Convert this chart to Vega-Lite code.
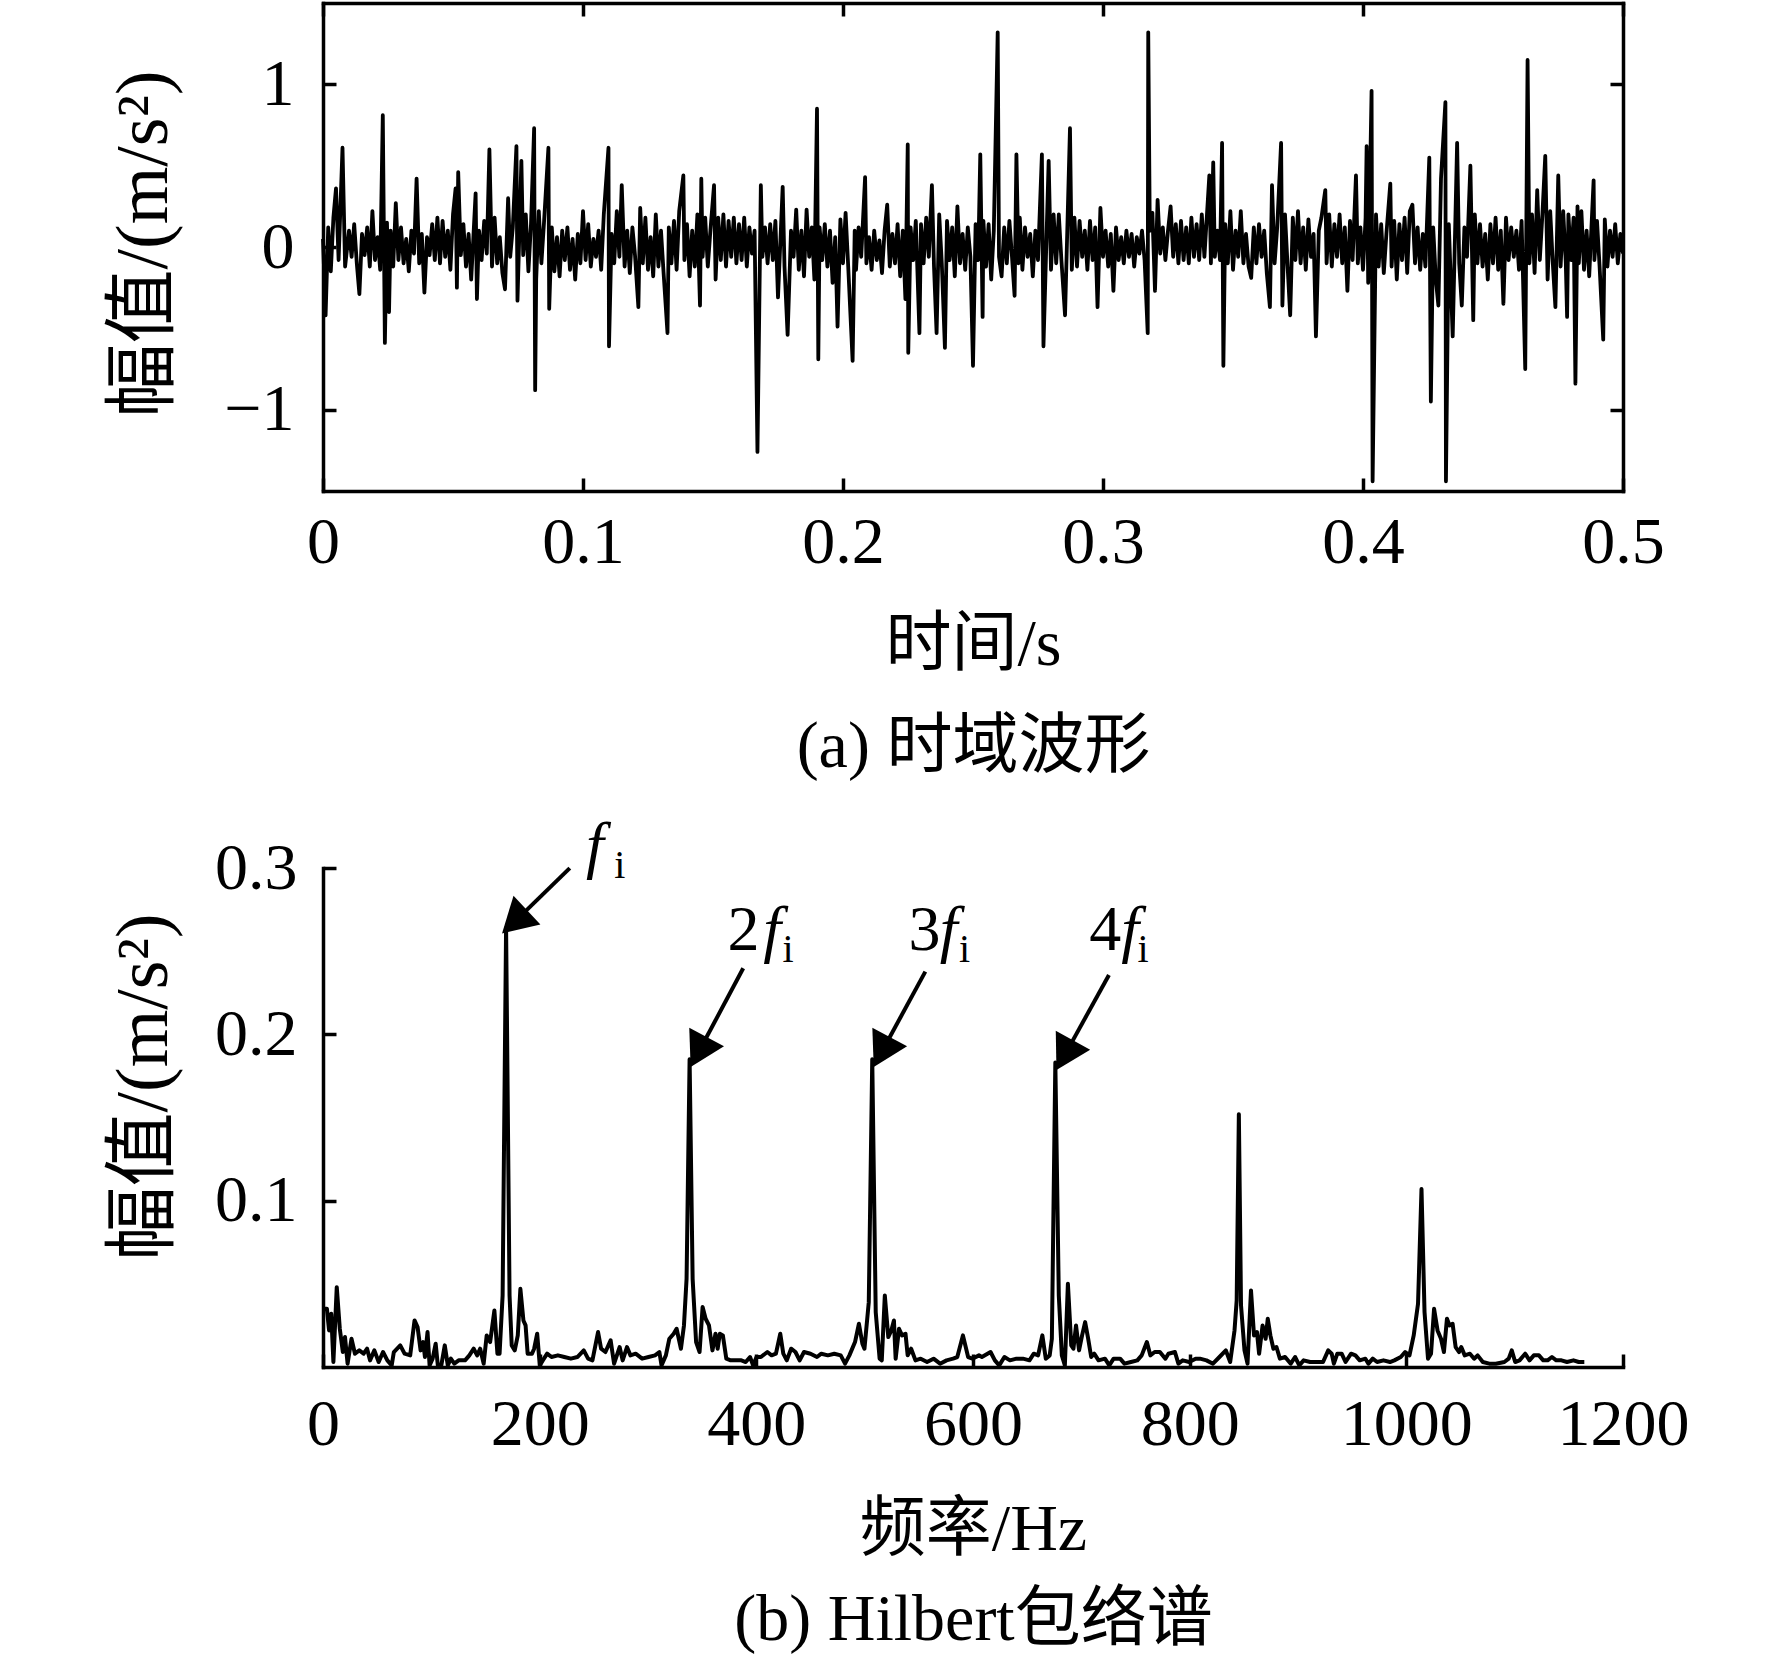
{
  "$schema": "https://vega.github.io/schema/vega-lite/v6.json",
  "background": "white",
  "padding": {"left": 106, "top": 0, "right": 10, "bottom": 10},
  "config": {
    "view": {"stroke": null},
    "font": "Liberation Serif",
    "axis": {
      "grid": false,
      "domainColor": "black",
      "domainWidth": 3.5,
      "domainCap": "square",
      "tickColor": "black",
      "tickWidth": 3.5,
      "tickSize": -13,
      "labelFont": "Liberation Serif",
      "labelFontSize": 66,
      "labelColor": "black",
      "labelFlush": false,
      "labelOverlap": false,
      "titleFont": "Liberation Serif, Noto Sans CJK SC",
      "titleFontSize": 66,
      "titleFontWeight": "normal",
      "titleColor": "black"
    }
  },
  "bounds": "flush",
  "spacing": 377,
  "vconcat": [
    {
      "width": 1300,
      "height": 488,
      "layer": [
        {
          "data": {"values": [
            {"t":0.000,"v":0.05},{"t":0.001,"v":-0.42},{"t":0.002,"v":0.12},{"t":0.003,"v":-0.15},{"t":0.004,"v":0.18},{"t":0.005,"v":0.36},{"t":0.006,"v":-0.08},{"t":0.0075,"v":0.61},{"t":0.0085,"v":-0.12},{"t":0.010,"v":0.10},
            {"t":0.011,"v":-0.06},{"t":0.012,"v":0.14},{"t":0.013,"v":-0.10},{"t":0.014,"v":-0.29},{"t":0.015,"v":0.08},{"t":0.016,"v":-0.05},{"t":0.017,"v":0.12},{"t":0.018,"v":-0.12},{"t":0.019,"v":0.22},{"t":0.020,"v":-0.08},
            {"t":0.021,"v":0.06},{"t":0.022,"v":-0.14},{"t":0.023,"v":0.81},{"t":0.0238,"v":-0.59},{"t":0.0246,"v":0.15},{"t":0.0254,"v":-0.40},{"t":0.026,"v":0.10},{"t":0.027,"v":-0.12},{"t":0.028,"v":0.27},{"t":0.029,"v":-0.08},
            {"t":0.030,"v":0.12},{"t":0.031,"v":-0.10},{"t":0.032,"v":0.05},{"t":0.033,"v":-0.15},{"t":0.034,"v":0.10},{"t":0.035,"v":-0.04},{"t":0.036,"v":0.42},{"t":0.037,"v":-0.10},{"t":0.038,"v":0.08},{"t":0.039,"v":-0.28},
            {"t":0.040,"v":0.06},{"t":0.041,"v":-0.05},{"t":0.042,"v":0.14},{"t":0.043,"v":-0.08},{"t":0.044,"v":0.18},{"t":0.045,"v":-0.10},{"t":0.046,"v":0.16},{"t":0.047,"v":-0.06},{"t":0.048,"v":0.10},{"t":0.049,"v":-0.14},
            {"t":0.050,"v":0.20},{"t":0.051,"v":0.36},{"t":0.0515,"v":-0.25},{"t":0.052,"v":0.46},{"t":0.053,"v":-0.05},{"t":0.054,"v":0.14},{"t":0.055,"v":-0.12},{"t":0.056,"v":0.08},{"t":0.057,"v":-0.20},{"t":0.0587,"v":0.33},
            {"t":0.0592,"v":-0.32},{"t":0.060,"v":0.10},{"t":0.061,"v":-0.08},{"t":0.062,"v":0.16},{"t":0.063,"v":-0.04},{"t":0.064,"v":0.60},{"t":0.065,"v":-0.12},{"t":0.066,"v":0.18},{"t":0.067,"v":-0.10},{"t":0.068,"v":0.06},
            {"t":0.069,"v":-0.16},{"t":0.070,"v":-0.26},{"t":0.0712,"v":0.30},{"t":0.072,"v":-0.06},{"t":0.073,"v":0.12},{"t":0.0744,"v":0.62},{"t":0.0748,"v":-0.33},{"t":0.0763,"v":0.53},{"t":0.077,"v":-0.05},{"t":0.078,"v":0.20},
            {"t":0.079,"v":-0.15},{"t":0.080,"v":0.14},{"t":0.0812,"v":0.73},{"t":0.0816,"v":-0.88},{"t":0.082,"v":-0.20},{"t":0.083,"v":0.22},{"t":0.084,"v":-0.10},{"t":0.085,"v":0.15},{"t":0.0867,"v":0.61},{"t":0.0870,"v":-0.38},
            {"t":0.088,"v":0.12},{"t":0.089,"v":-0.15},{"t":0.090,"v":0.06},{"t":0.091,"v":-0.18},{"t":0.092,"v":0.10},{"t":0.093,"v":-0.08},{"t":0.094,"v":0.12},{"t":0.095,"v":-0.14},{"t":0.096,"v":0.05},{"t":0.097,"v":-0.20},
            {"t":0.098,"v":0.08},{"t":0.099,"v":-0.10},{"t":0.100,"v":0.22},{"t":0.101,"v":-0.08},{"t":0.102,"v":0.14},{"t":0.103,"v":-0.12},{"t":0.104,"v":0.05},{"t":0.105,"v":-0.06},{"t":0.106,"v":0.10},{"t":0.107,"v":-0.14},
            {"t":0.108,"v":0.20},{"t":0.1098,"v":0.61},{"t":0.1100,"v":-0.61},{"t":0.111,"v":0.08},{"t":0.112,"v":-0.10},{"t":0.113,"v":0.22},{"t":0.114,"v":-0.06},{"t":0.1149,"v":0.38},{"t":0.116,"v":-0.12},{"t":0.117,"v":0.10},
            {"t":0.118,"v":-0.16},{"t":0.119,"v":0.12},{"t":0.120,"v":-0.05},{"t":0.1213,"v":-0.37},{"t":0.122,"v":0.24},{"t":0.123,"v":-0.10},{"t":0.124,"v":0.18},{"t":0.125,"v":-0.14},{"t":0.126,"v":0.06},{"t":0.127,"v":-0.18},
            {"t":0.128,"v":0.20},{"t":0.129,"v":-0.12},{"t":0.130,"v":0.10},{"t":0.131,"v":-0.16},{"t":0.1325,"v":-0.53},{"t":0.133,"v":0.12},{"t":0.134,"v":-0.10},{"t":0.135,"v":0.16},{"t":0.136,"v":-0.14},{"t":0.137,"v":0.22},
            {"t":0.1386,"v":0.44},{"t":0.139,"v":-0.08},{"t":0.140,"v":0.14},{"t":0.141,"v":-0.18},{"t":0.142,"v":0.10},{"t":0.143,"v":-0.12},{"t":0.144,"v":0.20},{"t":0.1450,"v":-0.36},{"t":0.1455,"v":0.42},{"t":0.146,"v":-0.06},
            {"t":0.147,"v":0.18},{"t":0.148,"v":-0.12},{"t":0.149,"v":0.10},{"t":0.1504,"v":0.38},{"t":0.151,"v":-0.20},{"t":0.152,"v":0.18},{"t":0.153,"v":-0.08},{"t":0.154,"v":0.20},{"t":0.155,"v":-0.12},{"t":0.156,"v":0.16},
            {"t":0.157,"v":-0.06},{"t":0.158,"v":0.18},{"t":0.159,"v":-0.10},{"t":0.160,"v":0.14},{"t":0.161,"v":-0.08},{"t":0.162,"v":0.18},{"t":0.163,"v":-0.12},{"t":0.164,"v":0.12},{"t":0.165,"v":-0.04},{"t":0.166,"v":0.10},
            {"t":0.1671,"v":-1.26},{"t":0.1684,"v":0.38},{"t":0.169,"v":-0.06},{"t":0.170,"v":0.12},{"t":0.171,"v":-0.10},{"t":0.172,"v":0.14},{"t":0.173,"v":-0.08},{"t":0.174,"v":0.16},{"t":0.175,"v":-0.31},{"t":0.1768,"v":0.37},
            {"t":0.1775,"v":-0.12},{"t":0.1787,"v":-0.54},{"t":0.180,"v":0.10},{"t":0.181,"v":-0.06},{"t":0.182,"v":0.23},{"t":0.183,"v":-0.14},{"t":0.184,"v":0.10},{"t":0.185,"v":-0.18},{"t":0.186,"v":0.23},{"t":0.187,"v":-0.06},
            {"t":0.188,"v":0.12},{"t":0.189,"v":-0.20},{"t":0.1900,"v":0.85},{"t":0.1905,"v":-0.69},{"t":0.191,"v":0.12},{"t":0.192,"v":-0.08},{"t":0.193,"v":0.14},{"t":0.194,"v":-0.12},{"t":0.195,"v":0.10},{"t":0.196,"v":-0.22},
            {"t":0.197,"v":0.06},{"t":0.1979,"v":-0.49},{"t":0.199,"v":0.17},{"t":0.200,"v":-0.10},{"t":0.201,"v":0.21},{"t":0.202,"v":-0.12},{"t":0.2037,"v":-0.70},{"t":0.2045,"v":0.10},{"t":0.205,"v":-0.14},{"t":0.206,"v":0.12},
            {"t":0.207,"v":-0.06},{"t":0.2085,"v":0.43},{"t":0.209,"v":-0.10},{"t":0.210,"v":0.06},{"t":0.211,"v":-0.14},{"t":0.212,"v":0.10},{"t":0.213,"v":-0.08},{"t":0.214,"v":0.04},{"t":0.215,"v":-0.16},{"t":0.216,"v":0.10},
            {"t":0.217,"v":0.26},{"t":0.218,"v":-0.12},{"t":0.219,"v":0.08},{"t":0.220,"v":-0.10},{"t":0.221,"v":0.14},{"t":0.222,"v":-0.18},{"t":0.223,"v":0.10},{"t":0.224,"v":-0.32},{"t":0.2249,"v":0.63},{"t":0.2251,"v":-0.65},
            {"t":0.226,"v":0.12},{"t":0.227,"v":-0.08},{"t":0.228,"v":0.16},{"t":0.2294,"v":-0.53},{"t":0.230,"v":0.14},{"t":0.231,"v":-0.10},{"t":0.232,"v":0.18},{"t":0.233,"v":-0.06},{"t":0.2342,"v":0.38},{"t":0.235,"v":-0.12},
            {"t":0.2360,"v":-0.53},{"t":0.237,"v":0.20},{"t":0.238,"v":-0.10},{"t":0.2392,"v":-0.62},{"t":0.240,"v":0.16},{"t":0.241,"v":-0.08},{"t":0.242,"v":0.12},{"t":0.243,"v":-0.18},{"t":0.244,"v":0.25},{"t":0.245,"v":-0.10},
            {"t":0.246,"v":0.08},{"t":0.247,"v":-0.14},{"t":0.248,"v":0.12},{"t":0.249,"v":-0.06},{"t":0.2500,"v":-0.73},{"t":0.251,"v":0.14},{"t":0.252,"v":-0.08},{"t":0.2528,"v":0.57},{"t":0.2537,"v":-0.43},{"t":0.254,"v":0.16},
            {"t":0.255,"v":-0.12},{"t":0.256,"v":0.14},{"t":0.257,"v":-0.20},{"t":0.258,"v":0.10},{"t":0.2595,"v":1.32},{"t":0.260,"v":-0.06},{"t":0.261,"v":-0.18},{"t":0.262,"v":0.12},{"t":0.263,"v":-0.10},{"t":0.264,"v":0.16},
            {"t":0.265,"v":-0.06},{"t":0.266,"v":-0.30},{"t":0.2667,"v":0.57},{"t":0.2675,"v":-0.10},{"t":0.268,"v":0.18},{"t":0.269,"v":-0.14},{"t":0.270,"v":0.12},{"t":0.271,"v":-0.06},{"t":0.272,"v":0.08},{"t":0.273,"v":-0.18},
            {"t":0.274,"v":0.10},{"t":0.275,"v":-0.08},{"t":0.2765,"v":0.57},{"t":0.2771,"v":-0.61},{"t":0.2791,"v":0.53},{"t":0.280,"v":-0.14},{"t":0.281,"v":0.20},{"t":0.282,"v":-0.10},{"t":0.283,"v":0.20},{"t":0.284,"v":-0.08},
            {"t":0.2854,"v":-0.42},{"t":0.2873,"v":0.73},{"t":0.288,"v":-0.14},{"t":0.289,"v":0.18},{"t":0.290,"v":-0.12},{"t":0.291,"v":0.16},{"t":0.292,"v":-0.06},{"t":0.293,"v":0.10},{"t":0.294,"v":-0.14},{"t":0.295,"v":0.16},
            {"t":0.296,"v":-0.08},{"t":0.297,"v":0.12},{"t":0.2979,"v":-0.37},{"t":0.299,"v":0.24},{"t":0.300,"v":-0.06},{"t":0.301,"v":0.10},{"t":0.302,"v":-0.12},{"t":0.303,"v":0.08},{"t":0.304,"v":-0.27},{"t":0.305,"v":0.12},
            {"t":0.306,"v":-0.08},{"t":0.307,"v":0.06},{"t":0.308,"v":-0.10},{"t":0.309,"v":0.10},{"t":0.310,"v":-0.06},{"t":0.311,"v":0.08},{"t":0.312,"v":-0.12},{"t":0.313,"v":0.06},{"t":0.314,"v":-0.04},{"t":0.315,"v":0.10},
            {"t":0.316,"v":-0.08},{"t":0.3172,"v":-0.53},{"t":0.3174,"v":1.32},{"t":0.318,"v":0.10},{"t":0.319,"v":0.21},{"t":0.320,"v":-0.27},{"t":0.321,"v":0.29},{"t":0.322,"v":-0.04},{"t":0.323,"v":0.12},{"t":0.324,"v":-0.08},
            {"t":0.325,"v":0.10},{"t":0.326,"v":0.25},{"t":0.327,"v":-0.06},{"t":0.328,"v":0.14},{"t":0.329,"v":-0.10},{"t":0.330,"v":0.16},{"t":0.331,"v":-0.08},{"t":0.332,"v":0.12},{"t":0.333,"v":-0.10},{"t":0.334,"v":0.18},
            {"t":0.335,"v":-0.06},{"t":0.336,"v":0.14},{"t":0.337,"v":-0.08},{"t":0.338,"v":0.20},{"t":0.339,"v":-0.06},{"t":0.3409,"v":0.44},{"t":0.3415,"v":-0.10},{"t":0.3424,"v":0.52},{"t":0.343,"v":-0.06},{"t":0.344,"v":0.10},
            {"t":0.345,"v":-0.08},{"t":0.3458,"v":0.64},{"t":0.3463,"v":-0.73},{"t":0.347,"v":0.14},{"t":0.348,"v":-0.10},{"t":0.349,"v":0.22},{"t":0.350,"v":-0.14},{"t":0.351,"v":0.10},{"t":0.352,"v":-0.06},{"t":0.353,"v":0.22},
            {"t":0.354,"v":-0.10},{"t":0.355,"v":0.08},{"t":0.356,"v":-0.12},{"t":0.357,"v":-0.19},{"t":0.358,"v":0.12},{"t":0.359,"v":-0.10},{"t":0.360,"v":0.14},{"t":0.361,"v":-0.06},{"t":0.362,"v":0.10},{"t":0.363,"v":-0.16},
            {"t":0.3642,"v":-0.37},{"t":0.3650,"v":0.38},{"t":0.366,"v":-0.10},{"t":0.367,"v":0.12},{"t":0.3685,"v":0.64},{"t":0.369,"v":-0.36},{"t":0.370,"v":0.20},{"t":0.371,"v":-0.12},{"t":0.3720,"v":-0.42},{"t":0.373,"v":0.18},
            {"t":0.374,"v":-0.08},{"t":0.375,"v":0.22},{"t":0.376,"v":-0.10},{"t":0.377,"v":0.12},{"t":0.378,"v":-0.14},{"t":0.379,"v":0.17},{"t":0.380,"v":-0.06},{"t":0.381,"v":0.08},{"t":0.3819,"v":-0.55},{"t":0.383,"v":0.10},
            {"t":0.384,"v":0.18},{"t":0.3855,"v":0.35},{"t":0.386,"v":-0.10},{"t":0.387,"v":0.20},{"t":0.388,"v":-0.12},{"t":0.389,"v":0.14},{"t":0.390,"v":-0.06},{"t":0.391,"v":0.20},{"t":0.392,"v":-0.10},{"t":0.393,"v":0.12},
            {"t":0.394,"v":-0.27},{"t":0.395,"v":0.16},{"t":0.396,"v":-0.08},{"t":0.3973,"v":0.44},{"t":0.398,"v":-0.10},{"t":0.399,"v":0.12},{"t":0.400,"v":-0.14},{"t":0.401,"v":0.18},{"t":0.4014,"v":0.62},{"t":0.402,"v":-0.22},
            {"t":0.4033,"v":0.96},{"t":0.4037,"v":-1.44},{"t":0.405,"v":0.20},{"t":0.406,"v":-0.12},{"t":0.407,"v":0.14},{"t":0.408,"v":-0.16},{"t":0.409,"v":0.08},{"t":0.4105,"v":0.39},{"t":0.411,"v":-0.12},{"t":0.412,"v":0.16},
            {"t":0.413,"v":-0.20},{"t":0.414,"v":0.14},{"t":0.415,"v":-0.08},{"t":0.416,"v":0.18},{"t":0.417,"v":-0.16},{"t":0.418,"v":0.22},{"t":0.419,"v":0.26},{"t":0.420,"v":-0.10},{"t":0.421,"v":0.12},{"t":0.422,"v":-0.14},
            {"t":0.423,"v":0.08},{"t":0.424,"v":-0.12},{"t":0.4255,"v":0.55},{"t":0.4261,"v":-0.95},{"t":0.427,"v":0.12},{"t":0.428,"v":-0.20},{"t":0.429,"v":-0.36},{"t":0.4300,"v":0.42},{"t":0.4317,"v":0.89},{"t":0.4319,"v":-1.44},
            {"t":0.433,"v":0.14},{"t":0.4345,"v":-0.55},{"t":0.4362,"v":0.64},{"t":0.437,"v":-0.10},{"t":0.438,"v":-0.36},{"t":0.439,"v":0.12},{"t":0.440,"v":-0.06},{"t":0.4413,"v":0.50},{"t":0.4424,"v":-0.45},{"t":0.443,"v":0.20},
            {"t":0.444,"v":-0.10},{"t":0.445,"v":0.14},{"t":0.446,"v":-0.12},{"t":0.447,"v":0.08},{"t":0.448,"v":-0.20},{"t":0.449,"v":0.14},{"t":0.450,"v":-0.10},{"t":0.451,"v":0.18},{"t":0.452,"v":-0.14},{"t":0.453,"v":0.10},
            {"t":0.454,"v":-0.35},{"t":0.455,"v":0.18},{"t":0.456,"v":-0.08},{"t":0.457,"v":0.12},{"t":0.458,"v":-0.06},{"t":0.459,"v":0.10},{"t":0.460,"v":-0.14},{"t":0.461,"v":0.16},{"t":0.4624,"v":-0.75},{"t":0.4633,"v":1.15},
            {"t":0.464,"v":-0.10},{"t":0.465,"v":0.20},{"t":0.466,"v":-0.16},{"t":0.467,"v":0.35},{"t":0.468,"v":-0.08},{"t":0.469,"v":0.20},{"t":0.4701,"v":0.56},{"t":0.471,"v":-0.20},{"t":0.472,"v":0.22},{"t":0.473,"v":-0.10},
            {"t":0.474,"v":-0.37},{"t":0.4751,"v":0.44},{"t":0.476,"v":-0.12},{"t":0.477,"v":0.22},{"t":0.478,"v":-0.10},{"t":0.4785,"v":-0.43},{"t":0.479,"v":0.20},{"t":0.480,"v":-0.08},{"t":0.481,"v":0.18},{"t":0.4817,"v":-0.84},
            {"t":0.4825,"v":0.25},{"t":0.483,"v":-0.10},{"t":0.484,"v":0.22},{"t":0.485,"v":-0.14},{"t":0.486,"v":0.10},{"t":0.487,"v":-0.18},{"t":0.4887,"v":0.41},{"t":0.489,"v":-0.08},{"t":0.490,"v":0.16},{"t":0.491,"v":-0.12},
            {"t":0.4924,"v":-0.57},{"t":0.493,"v":0.17},{"t":0.494,"v":-0.12},{"t":0.495,"v":0.10},{"t":0.496,"v":-0.06},{"t":0.497,"v":0.14},{"t":0.498,"v":-0.10},{"t":0.499,"v":0.08},{"t":0.500,"v":-0.04}
          ]},
          "mark": {"type": "line", "color": "black", "strokeWidth": 3.8, "strokeJoin": "round"},
          "encoding": {
            "x": {
              "field": "t", "type": "quantitative",
              "scale": {"domain": [0, 0.5], "nice": false, "zero": false},
              "axis": {"orient": "bottom", "values": [0, 0.1, 0.2, 0.3, 0.4, 0.5], "format": "~g", "labelPadding": 32,
                       "title": ["时间/s", "(a) 时域波形"], "titleBaseline": "alphabetic", "titleY": 173, "titleLineHeight": 102}
            },
            "y": {
              "field": "v", "type": "quantitative",
              "scale": {"domain": [-1.5, 1.5], "nice": false, "zero": false},
              "axis": {"orient": "left", "values": [-1, 0, 1], "format": "d", "labelPadding": 42,
                       "title": "幅值/(m/s²)", "titleFontSize": 74, "titleX": -157, "titleY": 240.5, "titleAngle": -90, "titleBaseline": "alphabetic", "titleAlign": "center"}
            }
          }
        },
        {
          "data": {"values": [{"t": 0, "v": -1.5}, {"t": 0.5, "v": 1.5}]},
          "mark": {"type": "point", "opacity": 0},
          "encoding": {
            "x": {"field": "t", "type": "quantitative", "axis": {"orient": "top", "values": [0, 0.1, 0.2, 0.3, 0.4, 0.5], "labels": false, "title": null}},
            "y": {"field": "v", "type": "quantitative", "axis": {"orient": "right", "values": [-1, 0, 1], "labels": false, "title": null}}
          }
        }
      ],
      "resolve": {"axis": {"x": "independent", "y": "independent"}}
    },
    {
      "width": 1300,
      "height": 499,
      "layer": [
        {
          "data": {"values": [
            {"f":0,"v":0.035},{"f":3.6,"v":0.035},{"f":5.6,"v":0.022},{"f":7.6,"v":0.032},{"f":9.6,"v":0.003},{"f":12.7,"v":0.048},{"f":15.5,"v":0.023},{"f":18.3,"v":0.009},{"f":20.3,"v":0.018},{"f":22.7,"v":0.002},
            {"f":26.3,"v":0.017},{"f":29.5,"v":0.008},{"f":33.5,"v":0.010},{"f":37.5,"v":0.008},{"f":40.7,"v":0.011},{"f":43.4,"v":0.004},{"f":47.4,"v":0.010},{"f":51.4,"v":0.003},{"f":55.4,"v":0.009},{"f":59.4,"v":0.004},
            {"f":63.4,"v":0.001},{"f":65.4,"v":0.009},{"f":71.3,"v":0.013},{"f":75.3,"v":0.008},{"f":80.5,"v":0.007},{"f":84.5,"v":0.028},{"f":87.3,"v":0.024},{"f":90.1,"v":0.010},{"f":92.5,"v":0.015},{"f":94.1,"v":0.006},
            {"f":96.5,"v":0.021},{"f":98.4,"v":0.001},{"f":101.2,"v":0.005},{"f":104.0,"v":0.014},{"f":106.0,"v":0.001},{"f":109.2,"v":0.001},{"f":112.4,"v":0.013},{"f":115.2,"v":0.001},{"f":118.0,"v":0.005},{"f":121.2,"v":0.002},
            {"f":125.2,"v":0.004},{"f":131.1,"v":0.004},{"f":135.1,"v":0.007},{"f":139.1,"v":0.011},{"f":142.3,"v":0.007},{"f":145.1,"v":0.011},{"f":148.3,"v":0.002},{"f":151.1,"v":0.019},{"f":154.3,"v":0.015},{"f":158.2,"v":0.034},
            {"f":161.0,"v":0.008},{"f":163.0,"v":0.008},{"f":165.8,"v":0.043},{"f":169.0,"v":0.264},{"f":172.2,"v":0.043},{"f":174.2,"v":0.013},{"f":177.0,"v":0.010},{"f":179.8,"v":0.019},{"f":182.2,"v":0.047},{"f":185.0,"v":0.028},
            {"f":187.0,"v":0.025},{"f":188.9,"v":0.008},{"f":192.9,"v":0.008},{"f":194.9,"v":0.011},{"f":197.7,"v":0.020},{"f":200.1,"v":0.001},{"f":202.9,"v":0.004},{"f":206.9,"v":0.008},{"f":210.9,"v":0.006},{"f":216.8,"v":0.007},
            {"f":222.8,"v":0.006},{"f":228.8,"v":0.005},{"f":234.8,"v":0.006},{"f":240.7,"v":0.010},{"f":244.7,"v":0.005},{"f":248.7,"v":0.004},{"f":253.9,"v":0.021},{"f":256.7,"v":0.011},{"f":260.7,"v":0.009},{"f":265.5,"v":0.016},
            {"f":268.7,"v":0.002},{"f":273.8,"v":0.012},{"f":276.6,"v":0.004},{"f":280.6,"v":0.012},{"f":283.8,"v":0.007},{"f":288.6,"v":0.008},{"f":294.6,"v":0.005},{"f":300.5,"v":0.006},{"f":306.5,"v":0.007},{"f":310.5,"v":0.009},
            {"f":312.5,"v":0.001},{"f":316.5,"v":0.007},{"f":319.7,"v":0.017},{"f":323.7,"v":0.020},{"f":326.4,"v":0.023},{"f":330.4,"v":0.011},{"f":333.2,"v":0.025},{"f":335.6,"v":0.053},{"f":338.4,"v":0.185},{"f":341.2,"v":0.053},
            {"f":344.4,"v":0.015},{"f":347.6,"v":0.009},{"f":350.4,"v":0.036},{"f":353.2,"v":0.029},{"f":356.3,"v":0.025},{"f":359.5,"v":0.010},{"f":362.3,"v":0.020},{"f":364.3,"v":0.011},{"f":366.3,"v":0.020},{"f":369.1,"v":0.019},
            {"f":372.3,"v":0.005},{"f":376.3,"v":0.004},{"f":380.3,"v":0.004},{"f":386.2,"v":0.004},{"f":390.2,"v":0.003},{"f":394.2,"v":0.006},{"f":397.0,"v":0.001},{"f":400.2,"v":0.006},{"f":404.2,"v":0.006},{"f":410.2,"v":0.009},
            {"f":414.1,"v":0.007},{"f":418.1,"v":0.008},{"f":422.1,"v":0.020},{"f":424.9,"v":0.008},{"f":428.1,"v":0.004},{"f":432.1,"v":0.011},{"f":436.1,"v":0.009},{"f":440.0,"v":0.004},{"f":444.0,"v":0.009},{"f":450.0,"v":0.008},
            {"f":456.0,"v":0.006},{"f":460.0,"v":0.008},{"f":466.0,"v":0.007},{"f":472.0,"v":0.008},{"f":477.9,"v":0.007},{"f":481.9,"v":0.002},{"f":485.9,"v":0.007},{"f":491.1,"v":0.015},{"f":494.7,"v":0.026},{"f":497.9,"v":0.014},
            {"f":499.8,"v":0.011},{"f":503.8,"v":0.039},{"f":507.0,"v":0.185},{"f":510.2,"v":0.033},{"f":513.8,"v":0.005},{"f":515.8,"v":0.004},{"f":518.6,"v":0.043},{"f":521.8,"v":0.018},{"f":524.6,"v":0.022},{"f":527.0,"v":0.028},
            {"f":528.6,"v":0.005},{"f":531.7,"v":0.023},{"f":534.5,"v":0.019},{"f":537.7,"v":0.020},{"f":539.7,"v":0.007},{"f":542.9,"v":0.011},{"f":546.9,"v":0.004},{"f":551.7,"v":0.005},{"f":557.6,"v":0.003},{"f":563.6,"v":0.005},
            {"f":569.6,"v":0.002},{"f":575.6,"v":0.004},{"f":581.6,"v":0.005},{"f":585.5,"v":0.006},{"f":590.7,"v":0.019},{"f":595.5,"v":0.006},{"f":599.5,"v":0.005},{"f":605.5,"v":0.007},{"f":608.2,"v":0.006},{"f":616.2,"v":0.009},
            {"f":620.2,"v":0.004},{"f":624.2,"v":0.001},{"f":629.0,"v":0.006},{"f":634.1,"v":0.004},{"f":640.1,"v":0.005},{"f":646.1,"v":0.005},{"f":652.1,"v":0.004},{"f":656.1,"v":0.008},{"f":660.1,"v":0.007},{"f":664.0,"v":0.019},
            {"f":667.2,"v":0.005},{"f":670.8,"v":0.007},{"f":672.8,"v":0.017},{"f":676.0,"v":0.183},{"f":679.2,"v":0.043},{"f":682.0,"v":0.007},{"f":684.8,"v":0.001},{"f":687.6,"v":0.050},{"f":690.7,"v":0.013},{"f":692.7,"v":0.011},
            {"f":695.1,"v":0.025},{"f":697.9,"v":0.010},{"f":700.7,"v":0.019},{"f":703.5,"v":0.027},{"f":706.3,"v":0.017},{"f":709.1,"v":0.006},{"f":711.9,"v":0.008},{"f":715.9,"v":0.004},{"f":721.8,"v":0.005},{"f":725.8,"v":0.001},
            {"f":729.8,"v":0.005},{"f":735.8,"v":0.005},{"f":739.8,"v":0.002},{"f":745.8,"v":0.003},{"f":751.7,"v":0.004},{"f":755.7,"v":0.007},{"f":760.5,"v":0.015},{"f":763.7,"v":0.007},{"f":767.7,"v":0.009},{"f":772.5,"v":0.009},
            {"f":777.6,"v":0.005},{"f":780.4,"v":0.008},{"f":786.4,"v":0.009},{"f":789.6,"v":0.002},{"f":793.6,"v":0.004},{"f":799.6,"v":0.003},{"f":805.5,"v":0.005},{"f":809.5,"v":0.005},{"f":815.5,"v":0.004},{"f":821.5,"v":0.002},
            {"f":827.5,"v":0.006},{"f":833.4,"v":0.010},{"f":837.4,"v":0.003},{"f":841.4,"v":0.022},{"f":843.4,"v":0.040},{"f":845.4,"v":0.152},{"f":847.4,"v":0.037},{"f":850.6,"v":0.010},{"f":853.4,"v":0.002},{"f":856.6,"v":0.046},
            {"f":859.4,"v":0.019},{"f":862.1,"v":0.021},{"f":864.1,"v":0.008},{"f":867.3,"v":0.025},{"f":870.1,"v":0.017},{"f":872.1,"v":0.029},{"f":874.5,"v":0.019},{"f":877.3,"v":0.011},{"f":880.1,"v":0.012},{"f":883.3,"v":0.005},
            {"f":888.1,"v":0.006},{"f":893.3,"v":0.002},{"f":897.3,"v":0.006},{"f":901.2,"v":0.001},{"f":905.2,"v":0.004},{"f":911.2,"v":0.003},{"f":917.2,"v":0.003},{"f":923.1,"v":0.003},{"f":927.9,"v":0.010},{"f":931.1,"v":0.008},
            {"f":933.1,"v":0.002},{"f":936.3,"v":0.008},{"f":940.3,"v":0.008},{"f":943.9,"v":0.003},{"f":949.0,"v":0.008},{"f":953.0,"v":0.007},{"f":957.0,"v":0.004},{"f":962.2,"v":0.005},{"f":965.0,"v":0.002},{"f":969.0,"v":0.005},
            {"f":973.0,"v":0.003},{"f":978.9,"v":0.004},{"f":984.9,"v":0.003},{"f":988.9,"v":0.004},{"f":994.9,"v":0.006},{"f":998.9,"v":0.009},{"f":1002.9,"v":0.007},{"f":1006.8,"v":0.019},{"f":1010.8,"v":0.038},{"f":1014.0,"v":0.107},
            {"f":1016.8,"v":0.033},{"f":1020.0,"v":0.005},{"f":1022.8,"v":0.008},{"f":1025.6,"v":0.035},{"f":1028.8,"v":0.022},{"f":1032.0,"v":0.017},{"f":1034.7,"v":0.009},{"f":1037.5,"v":0.029},{"f":1039.9,"v":0.025},{"f":1042.7,"v":0.026},
            {"f":1045.5,"v":0.012},{"f":1048.7,"v":0.009},{"f":1050.7,"v":0.012},{"f":1053.9,"v":0.007},{"f":1058.7,"v":0.008},{"f":1062.6,"v":0.005},{"f":1065.8,"v":0.007},{"f":1070.6,"v":0.003},{"f":1076.6,"v":0.002},{"f":1082.6,"v":0.002},
            {"f":1090.5,"v":0.003},{"f":1094.5,"v":0.005},{"f":1097.3,"v":0.010},{"f":1100.5,"v":0.003},{"f":1104.5,"v":0.004},{"f":1109.7,"v":0.008},{"f":1113.7,"v":0.004},{"f":1117.7,"v":0.007},{"f":1122.4,"v":0.007},{"f":1126.4,"v":0.004},
            {"f":1130.4,"v":0.004},{"f":1134.4,"v":0.006},{"f":1138.4,"v":0.004},{"f":1143.2,"v":0.004},{"f":1148.3,"v":0.003},{"f":1154.3,"v":0.004},{"f":1159.1,"v":0.003},{"f":1164.3,"v":0.003}
          ]},
          "mark": {"type": "line", "color": "black", "strokeWidth": 4, "strokeJoin": "round"},
          "encoding": {
            "x": {
              "field": "f", "type": "quantitative",
              "scale": {"domain": [0, 1200], "nice": false, "zero": false},
              "axis": {"orient": "bottom", "values": [0, 200, 400, 600, 800, 1000, 1200], "format": "d", "labelPadding": 38,
                       "title": ["频率/Hz", "(b) Hilbert包络谱"], "titleBaseline": "alphabetic", "titleY": 182, "titleLineHeight": 90}
            },
            "y": {
              "field": "v", "type": "quantitative",
              "scale": {"domain": [0, 0.3], "nice": false, "zero": false},
              "axis": {"orient": "left", "values": [0.1, 0.2, 0.3], "format": ".1f", "labelPadding": 39,
                       "title": "幅值/(m/s²)", "titleFontSize": 74, "titleX": -157, "titleY": 218.5, "titleAngle": -90, "titleBaseline": "alphabetic", "titleAlign": "center"}
            }
          }
        },
        {
          "data": {"values": [
            {"f0": 227.8, "v0": 0.2999, "f1": 180.6, "v1": 0.270},
            {"f0": 387.9, "v0": 0.2397, "f1": 349.2, "v1": 0.1924},
            {"f0": 556.0, "v0": 0.2377, "f1": 518.2, "v1": 0.1924},
            {"f0": 725.5, "v0": 0.2357, "f1": 687.2, "v1": 0.1905}
          ]},
          "mark": {"type": "rule", "color": "black", "strokeWidth": 4},
          "encoding": {
            "x": {"field": "f0", "type": "quantitative"},
            "y": {"field": "v0", "type": "quantitative"},
            "x2": {"field": "f1"},
            "y2": {"field": "v1"}
          }
        },
        {
          "data": {"values": [
            {"f": 180.6, "v": 0.270, "a": 227},
            {"f": 349.2, "v": 0.1924, "a": 208},
            {"f": 518.2, "v": 0.1924, "a": 208},
            {"f": 687.2, "v": 0.1905, "a": 209}
          ]},
          "mark": {"type": "point", "shape": "triangle", "filled": true, "color": "black", "opacity": 1, "size": 1550, "strokeWidth": 0},
          "encoding": {
            "x": {"field": "f", "type": "quantitative"},
            "y": {"field": "v", "type": "quantitative"},
            "angle": {"field": "a", "type": "quantitative", "scale": null}
          }
        },
        {
          "data": {"values": [
            {"f": 388.2, "v": 0.2508, "s": "2"},
            {"f": 555.2, "v": 0.2508, "s": "3"},
            {"f": 722.0, "v": 0.2508, "s": "4"}
          ]},
          "mark": {"type": "text", "font": "Liberation Serif", "fontSize": 64, "color": "black", "align": "center", "baseline": "alphabetic"},
          "encoding": {
            "x": {"field": "f", "type": "quantitative"},
            "y": {"field": "v", "type": "quantitative"},
            "text": {"field": "s"}
          }
        },
        {
          "data": {"values": [
            {"f": 251.0, "v": 0.3013, "s": "f"},
            {"f": 414.5, "v": 0.2508, "s": "f"},
            {"f": 577.5, "v": 0.2508, "s": "f"},
            {"f": 745.0, "v": 0.2508, "s": "f"}
          ]},
          "mark": {"type": "text", "font": "Liberation Serif", "fontStyle": "italic", "fontSize": 64, "color": "black", "align": "center", "baseline": "alphabetic"},
          "encoding": {
            "x": {"field": "f", "type": "quantitative"},
            "y": {"field": "v", "type": "quantitative"},
            "text": {"field": "s"}
          }
        },
        {
          "data": {"values": [
            {"f": 274.0, "v": 0.294, "s": "i"},
            {"f": 429.2, "v": 0.2435, "s": "i"},
            {"f": 592.2, "v": 0.2435, "s": "i"},
            {"f": 757.0, "v": 0.2435, "s": "i"}
          ]},
          "mark": {"type": "text", "font": "Liberation Serif", "fontSize": 40, "color": "black", "align": "center", "baseline": "alphabetic"},
          "encoding": {
            "x": {"field": "f", "type": "quantitative"},
            "y": {"field": "v", "type": "quantitative"},
            "text": {"field": "s"}
          }
        }
      ]
    }
  ]
}
